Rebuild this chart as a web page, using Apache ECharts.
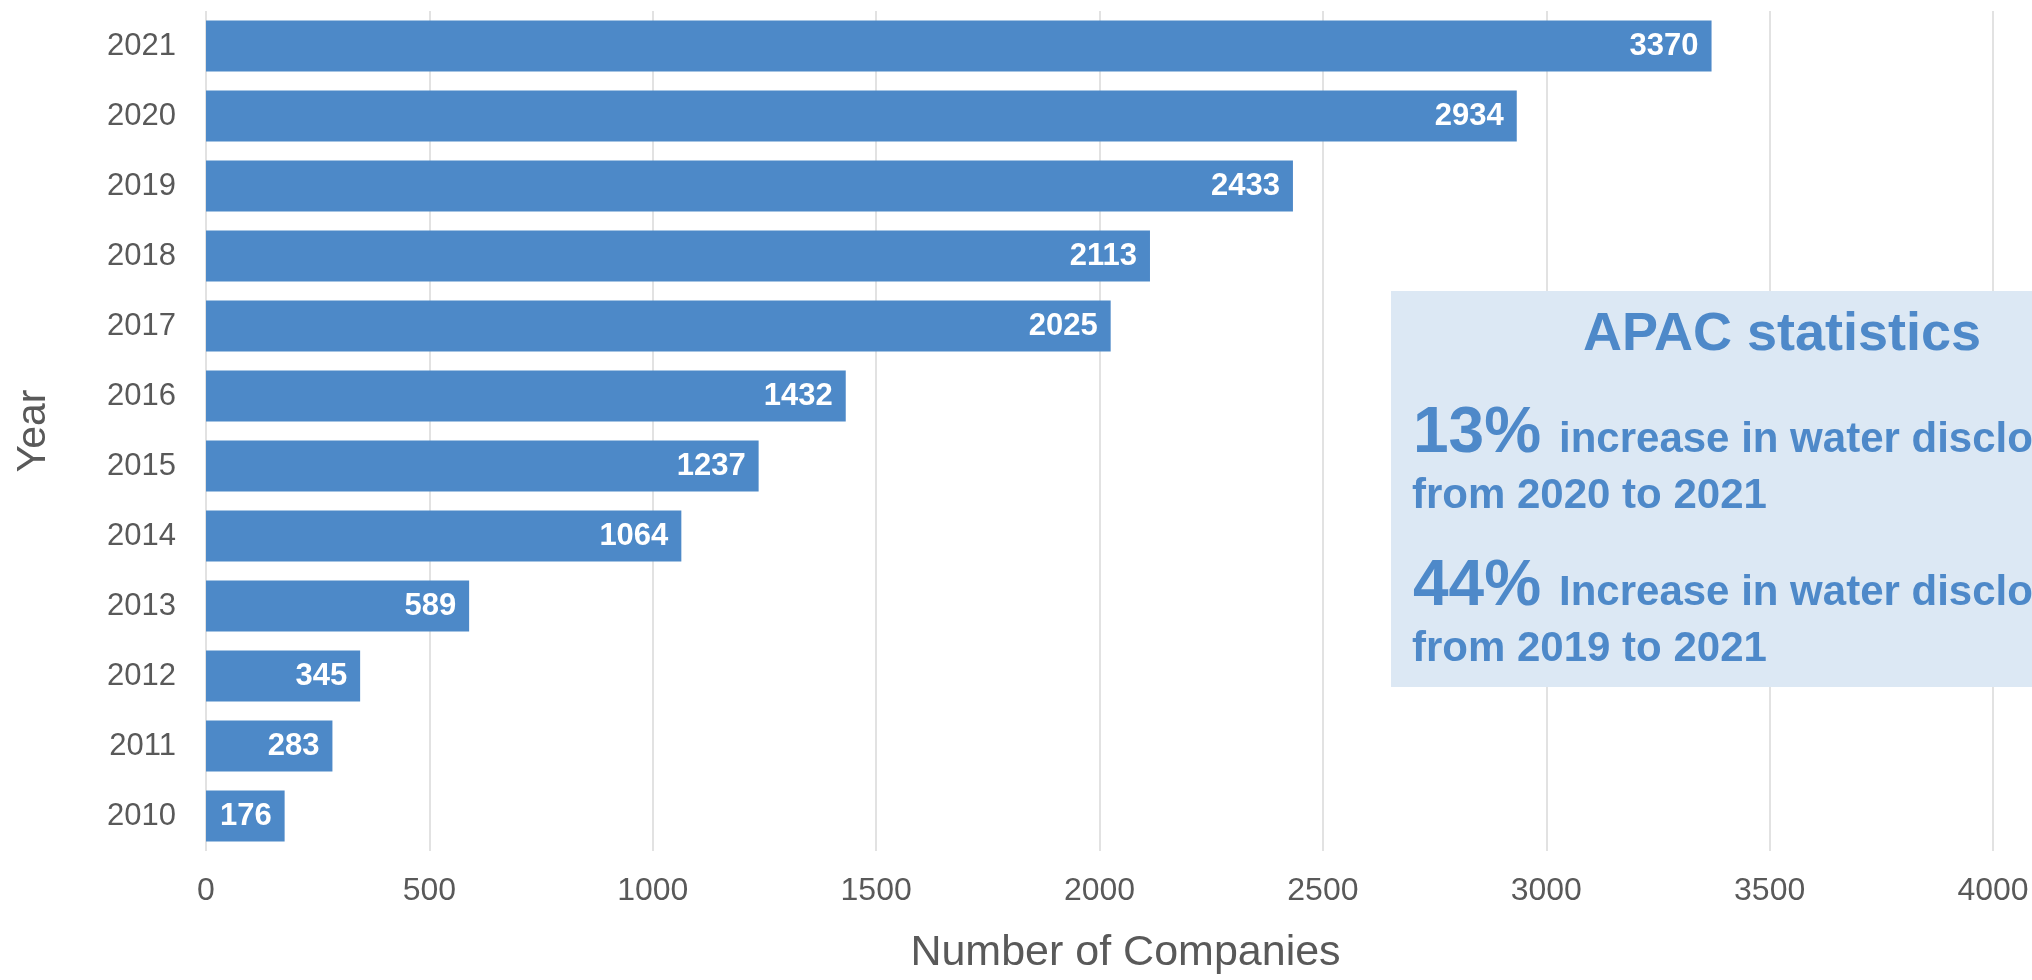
<!DOCTYPE html>
<html>
<head>
<meta charset="utf-8">
<script src="https://cdn.jsdelivr.net/npm/echarts@6/dist/echarts.min.js"></script>
<style>
html,body{margin:0;padding:0;background:#fff;}
#chart{width:2032px;height:980px;}
</style>
</head>
<body>
<div id="chart"></div>
<script>
const years = ['2010','2011','2012','2013','2014','2015','2016','2017','2018','2019','2020','2021'];
const companies = [176, 283, 345, 589, 1064, 1237, 1432, 2025, 2113, 2433, 2934, 3370];
const xTicks = {min: 0, max: 4000, interval: 500};
const boxTitle = 'APAC statistics';
const stat1 = ['13%', 'increase in water disclosures', 'from 2020 to 2021'];
const stat2 = ['44%', 'Increase in water disclosures', 'from 2019 to 2021'];

const FONT = '"Liberation Sans", Arial, sans-serif';
const BLUE = '#4e89c9';
const chart = echarts.init(document.getElementById('chart'));
chart.setOption({
  animation: false,
  backgroundColor: '#ffffff',
  grid: {left: 206, right: 39, top: 11, bottom: 123},
  xAxis: {
    type: 'value', min: xTicks.min, max: xTicks.max, interval: xTicks.interval,
    name: 'Number of Companies', nameLocation: 'middle', nameGap: 81,
    nameTextStyle: {fontFamily: FONT, fontSize: 43, color: '#595959', padding: [0, 0, 0, 52]},
    axisLine: {show: false}, axisTick: {show: false},
    axisLabel: {fontFamily: FONT, fontSize: 32, color: '#595959', margin: 24,
      formatter: function (v) { return String(v); }},
    splitLine: {show: true, lineStyle: {color: '#d9d9d9', width: 1.5}}
  },
  yAxis: {
    type: 'category', data: years,
    name: 'Year', nameLocation: 'middle', nameGap: 152, nameRotate: 90,
    nameTextStyle: {fontFamily: FONT, fontSize: 41, color: '#595959'},
    axisLine: {show: false}, axisTick: {show: false},
    axisLabel: {fontFamily: FONT, fontSize: 31, color: '#595959', margin: 30}
  },
  series: [{
    type: 'bar', data: companies, barCategoryGap: '27%',
    itemStyle: {color: '#4d89c8'},
    label: {show: true, position: 'insideRight', distance: 13, color: '#ffffff',
      fontFamily: FONT, fontSize: 31, fontWeight: 'bold'}
  }],
  graphic: [
    {type: 'rect', left: 1391, top: 291, shape: {width: 700, height: 396}, style: {fill: '#dce8f4'}, z: 100},
    {type: 'text', x: 1583, y: 335, z: 101, style: {text: boxTitle, fill: BLUE, font: 'bold 54px ' + FONT, verticalAlign: 'middle', align: 'left'}},
    {type: 'text', x: 1413, y: 434, z: 101, style: {text: stat1[0], fill: BLUE, font: 'bold 64px ' + FONT, verticalAlign: 'middle', align: 'left'}},
    {type: 'text', x: 1559, y: 440, z: 101, style: {text: stat1[1], fill: BLUE, font: 'bold 42px ' + FONT, verticalAlign: 'middle', align: 'left'}},
    {type: 'text', x: 1412, y: 496, z: 101, style: {text: stat1[2], fill: BLUE, font: 'bold 42px ' + FONT, verticalAlign: 'middle', align: 'left'}},
    {type: 'text', x: 1413, y: 587, z: 101, style: {text: stat2[0], fill: BLUE, font: 'bold 64px ' + FONT, verticalAlign: 'middle', align: 'left'}},
    {type: 'text', x: 1559, y: 593, z: 101, style: {text: stat2[1], fill: BLUE, font: 'bold 42px ' + FONT, verticalAlign: 'middle', align: 'left'}},
    {type: 'text', x: 1412, y: 649, z: 101, style: {text: stat2[2], fill: BLUE, font: 'bold 42px ' + FONT, verticalAlign: 'middle', align: 'left'}}
  ]
});
</script>
</body>
</html>
